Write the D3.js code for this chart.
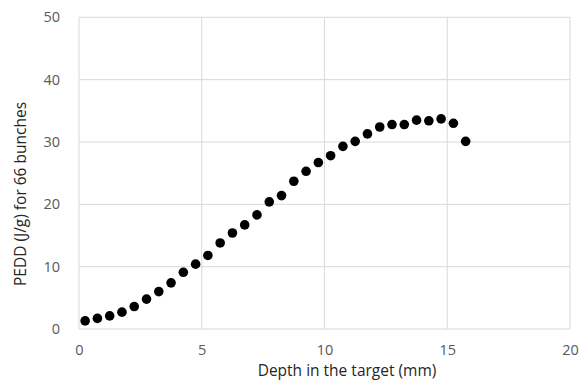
<!DOCTYPE html>
<html>
<head>
<meta charset="utf-8">
<script src="https://cdn.jsdelivr.net/npm/d3@7"></script>
<style>
  html, body { margin: 0; padding: 0; background: #fff; }
  svg { display: block; }
  text { font-family: "Open Sans", "Noto Sans", sans-serif; }
</style>
</head>
<body>
<div id="chart"></div>
<script>
// Depth positions (mm) and dose per depth bin
const depth = [0.25, 0.75, 1.25, 1.75, 2.25, 2.75, 3.25, 3.75, 4.25, 4.75,
               5.25, 5.75, 6.25, 6.75, 7.25, 7.75, 8.25, 8.75, 9.25, 9.75,
               10.25, 10.75, 11.25, 11.75, 12.25, 12.75, 13.25, 13.75, 14.25, 14.75,
               15.25, 15.75];
const pedd = [1.3, 1.7, 2.1, 2.7, 3.6, 4.8, 6.0, 7.4, 9.1, 10.4,
              11.8, 13.8, 15.4, 16.7, 18.3, 20.4, 21.4, 23.7, 25.3, 26.7,
              27.8, 29.3, 30.1, 31.3, 32.4, 32.8, 32.8, 33.5, 33.4, 33.7,
              33.0, 30.1];
const xTicks = [0, 5, 10, 15, 20];
const yTicks = [0, 10, 20, 30, 40, 50];

const width = 580, height = 380;

const svg = d3.select("#chart").append("svg")
  .attr("width", width).attr("height", height);

const x = d3.scaleLinear().domain([0, 20]).range([79, 570]);
const y = d3.scaleLinear().domain([0, 50]).range([329, 17.3]);

// Gridlines
svg.append("g")
  .selectAll("line")
  .data(xTicks)
  .join("line")
  .attr("x1", d => x(d)).attr("x2", d => x(d))
  .attr("y1", y(0)).attr("y2", y(50))
  .attr("stroke", "#d9d9d9").attr("stroke-width", 1);

svg.append("g")
  .selectAll("line")
  .data(yTicks)
  .join("line")
  .attr("x1", x(0)).attr("x2", x(20))
  .attr("y1", d => y(d)).attr("y2", d => y(d))
  .attr("stroke", "#d9d9d9").attr("stroke-width", 1);

// Axes (labels only; lines come from the grid)
const xAxis = svg.append("g")
  .attr("transform", `translate(0,${y(0)})`)
  .call(d3.axisBottom(x).tickValues(xTicks).tickSize(0).tickPadding(16));
xAxis.select(".domain").remove();
xAxis.selectAll("text")
  .attr("fill", "#595959").attr("font-size", 14.5);

const yAxis = svg.append("g")
  .attr("transform", `translate(${x(0)},0)`)
  .call(d3.axisLeft(y).tickValues(yTicks).tickSize(0).tickPadding(19));
yAxis.select(".domain").remove();
yAxis.selectAll("text")
  .attr("fill", "#595959").attr("font-size", 14.5);

// Points
svg.append("g")
  .selectAll("circle")
  .data(depth.map((d, i) => [d, pedd[i]]))
  .join("circle")
  .attr("cx", d => x(d[0]))
  .attr("cy", d => y(d[1]))
  .attr("r", 4.8)
  .attr("fill", "#000");

// Axis titles
svg.append("text")
  .attr("x", 347).attr("y", 376)
  .attr("text-anchor", "middle")
  .attr("fill", "#262626").attr("font-size", 15.5)
  .text("Depth in the target (mm)");

svg.append("text")
  .attr("transform", "translate(26,194) rotate(-90)")
  .attr("text-anchor", "middle")
  .attr("fill", "#262626").attr("font-size", 15.5)
  .text("PEDD (J/g) for 66 bunches");
</script>
</body>
</html>
